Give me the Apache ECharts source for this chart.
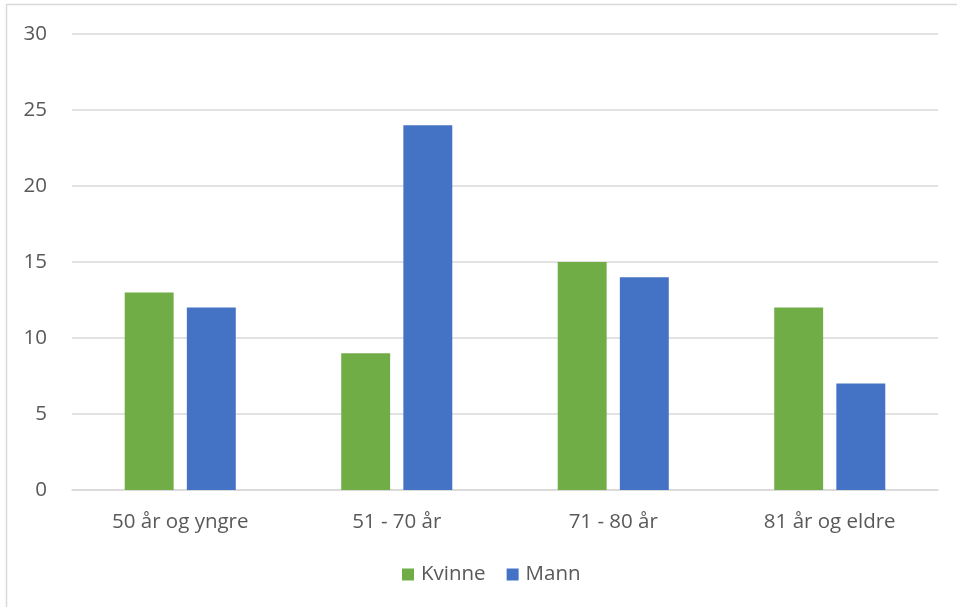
<!DOCTYPE html>
<html>
<head>
<meta charset="utf-8">
<script src="https://cdn.jsdelivr.net/npm/echarts@6/dist/echarts.min.js"></script>
<style>
  html, body { margin: 0; padding: 0; background: #fff; }
  #chart { width: 957px; height: 607px; }
</style>
</head>
<body>
<div id="chart"></div>
<script>
// Age groups on the x axis
const categories = ['50 år og yngre', '51 - 70 år', '71 - 80 år', '81 år og eldre'];
// Counts per gender
const kvinne = [13, 9, 15, 12];
const mann = [12, 24, 14, 7];
const yTicks = [0, 5, 10, 15, 20, 25, 30];

const textColor = '#595959';
const fontFamily = '"Open Sans", "Noto Sans", sans-serif';
const labelSize = 20.5;

const chart = echarts.init(document.getElementById('chart'), null, { renderer: 'canvas' });
chart.setOption({
  animation: false,
  backgroundColor: '#fff',
  textStyle: { fontFamily: fontFamily, fontSize: labelSize },
  graphic: [{
    type: 'rect',
    shape: { x: 6.5, y: 4.5, width: 960, height: 620 },
    style: { fill: 'none', stroke: '#d9d9d9', lineWidth: 1.5 },
    silent: true
  }],
  grid: { left: 72, right: 19, top: 34, bottom: 117, containLabel: false },
  legend: {
    bottom: 17,
    left: 397,
    itemWidth: 12,
    itemHeight: 12,
    itemGap: 21,
    icon: 'rect',
    textStyle: { color: textColor, fontSize: labelSize, fontFamily: fontFamily, padding: [0, 0, 0, 2] },
    data: ['Kvinne', 'Mann']
  },
  xAxis: {
    type: 'category',
    data: categories,
    axisLine: { show: true, lineStyle: { color: '#d9d9d9', width: 1.5 } },
    axisTick: { show: false },
    axisLabel: { color: textColor, fontSize: labelSize, margin: 22, fontFamily: fontFamily }
  },
  yAxis: {
    type: 'value',
    min: yTicks[0],
    max: yTicks[yTicks.length - 1],
    interval: 5,
    axisLine: { show: false },
    axisTick: { show: false },
    axisLabel: { color: textColor, fontSize: labelSize, margin: 25, fontFamily: fontFamily },
    splitLine: { lineStyle: { color: '#d9d9d9', width: 1.5 } }
  },
  series: [
    {
      name: 'Kvinne',
      type: 'bar',
      data: kvinne,
      barWidth: '22.6%',
      barGap: '27%',
      itemStyle: { color: '#70ad47' }
    },
    {
      name: 'Mann',
      type: 'bar',
      data: mann,
      barWidth: '22.6%',
      barGap: '27%',
      itemStyle: { color: '#4472c4' }
    }
  ]
});
</script>
</body>
</html>
